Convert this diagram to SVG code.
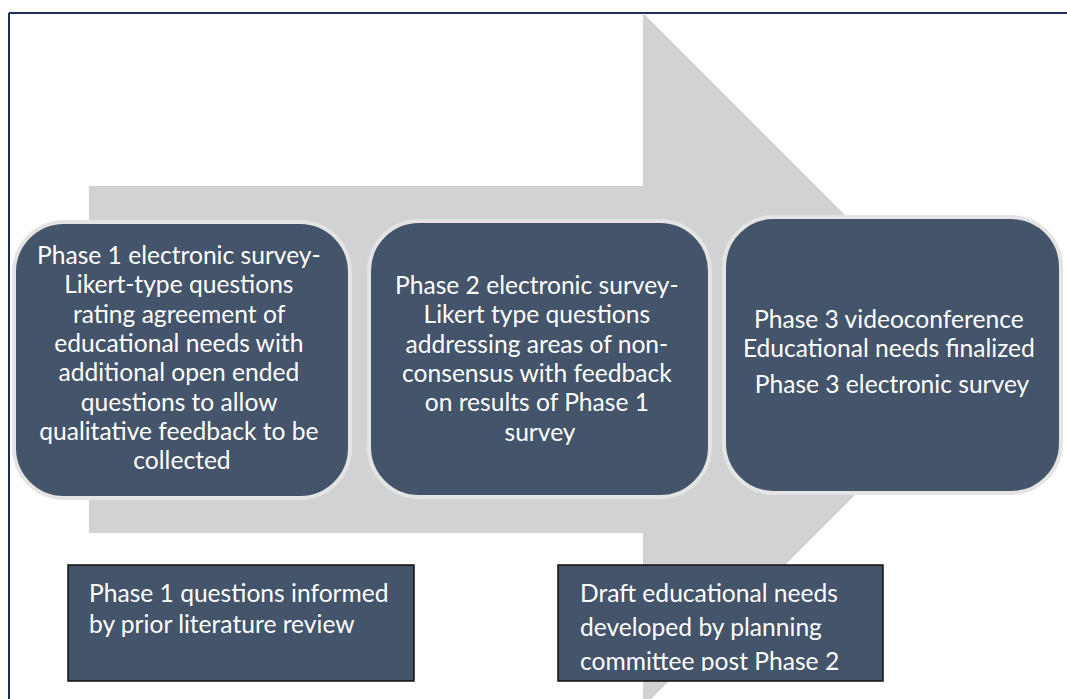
<svg xmlns="http://www.w3.org/2000/svg" width="1067" height="699" viewBox="0 0 1067 699">
  <style>
    .stage { fill: #44546a; stroke: #e4e4e4; stroke-width: 4; }
    .note { fill: #44546a; stroke: #111111; stroke-width: 1.5; }
    .t { font-family: Lato, "Liberation Sans", sans-serif; font-size: 24.6px; fill: #ffffff; }
    .c { text-anchor: middle; }
  </style>
  <defs>
    <clipPath id="noteClip">
      <rect x="558" y="565" width="325" height="106"/>
    </clipPath>
  </defs>

  <rect x="0" y="0" width="1067" height="699" fill="#ffffff"/>

  <!-- frame edges -->
  <g id="frame" stroke="#1f2b5b" stroke-width="2" fill="none">
    <line x1="9" y1="13" x2="1067" y2="13"/>
    <line x1="9" y1="13" x2="9" y2="699"/>
  </g>

  <!-- big background arrow -->
  <g id="connectors">
    <polygon points="89,186 643,186 643,13 990,360 643,707 643,533 89,533" fill="#d1d2d4"/>
  </g>

  <g id="phase1">
    <rect class="stage" x="14" y="222" width="336" height="276" rx="50" ry="50"/>
    <text class="t c">
      <tspan x="182" y="264">Phase 1 electronic survey-</tspan>
      <tspan x="182" y="293">Likert-type questions</tspan>
      <tspan x="182" y="323">rating agreement of</tspan>
      <tspan x="182" y="352">educational needs with</tspan>
      <tspan x="182" y="381">additional open ended</tspan>
      <tspan x="182" y="411">questions to allow</tspan>
      <tspan x="182" y="440">qualitative feedback to be</tspan>
      <tspan x="182" y="469">collected</tspan>
    </text>
  </g>

  <g id="phase2">
    <rect class="stage" x="369" y="221" width="341" height="276" rx="50" ry="50"/>
    <text class="t c">
      <tspan x="540" y="294">Phase 2 electronic survey-</tspan>
      <tspan x="540" y="323">Likert type questions</tspan>
      <tspan x="540" y="353">addressing areas of non-</tspan>
      <tspan x="540" y="382">consensus with feedback</tspan>
      <tspan x="540" y="411">on results of Phase 1</tspan>
      <tspan x="540" y="441">survey</tspan>
    </text>
  </g>

  <g id="phase3">
    <rect class="stage" x="724" y="217" width="337" height="276" rx="50" ry="50"/>
    <text class="t c">
      <tspan x="892" y="328">Phase 3 videoconference</tspan>
      <tspan x="892" y="357">Educational needs finalized</tspan>
      <tspan x="892" y="393">Phase 3 electronic survey</tspan>
    </text>
  </g>

  <g id="literature">
    <rect class="note" x="68" y="565" width="346" height="116"/>
    <text class="t">
      <tspan x="89" y="602">Phase 1 questions informed</tspan>
      <tspan x="89" y="633">by prior literature review</tspan>
    </text>
  </g>

  <g id="draft">
    <rect class="note" x="558" y="565" width="325" height="116"/>
    <text class="t" clip-path="url(#noteClip)">
      <tspan x="580" y="602">Draft educational needs</tspan>
      <tspan x="580" y="636">developed by planning</tspan>
      <tspan x="580" y="670">committee post Phase 2</tspan>
    </text>
  </g>
</svg>
